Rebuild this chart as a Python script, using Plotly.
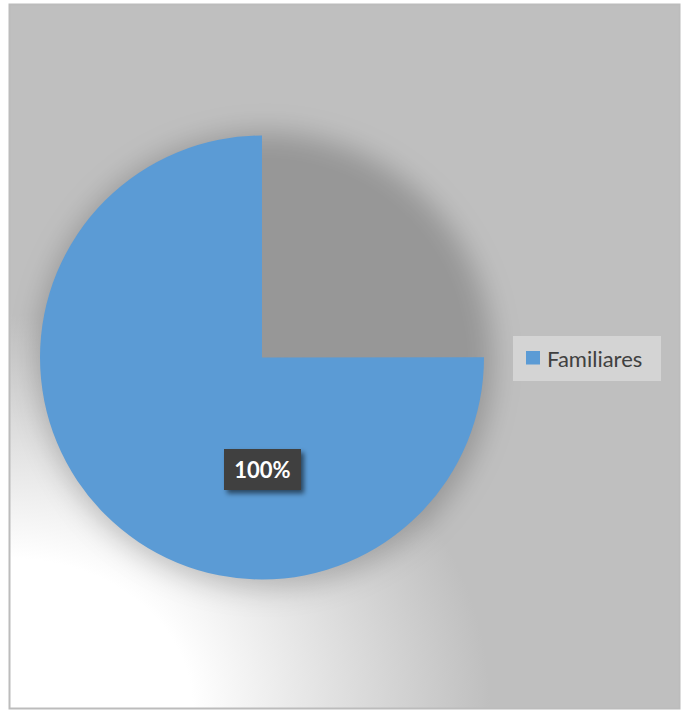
import base64
import plotly.graph_objects as go

# ---- data -------------------------------------------------------------
categories = ["", "Familiares"]
shares = [33.3, 100]          # first slice is left unfilled
slice_colors = ["rgba(0,0,0,0)", "#5B9BD5"]

# ---- layout constants (pixels) -----------------------------------------
W, H = 683, 711
FRAME = (10, 5, 679, 708)     # left, top, right, bottom of the chart frame
CX, CY, R = 262, 357.5, 222   # pie centre and radius

def px(x):
    return x / W

def py(y):
    return 1 - y / H

# background: grey fill with a white wash in the lower-left corner and the pie's drop shadow
fx0, fy0, fx1, fy1 = FRAME
bg_svg = f"""<svg xmlns="http://www.w3.org/2000/svg" width="{W}" height="{H}" viewBox="0 0 {W} {H}">
<defs>
  <clipPath id="c"><rect x="{fx0}" y="{fy0}" width="{fx1-fx0}" height="{fy1-fy0}"/></clipPath>
  <radialGradient id="wash" gradientUnits="userSpaceOnUse" cx="{fx0}" cy="{fy1}" r="480"
      gradientTransform="translate({fx0} {fy1}) scale(1 0.82) translate({-fx0} {-fy1})">
    <stop offset="0" stop-color="#ffffff"/>
    <stop offset="0.38" stop-color="#ffffff"/>
    <stop offset="0.7" stop-color="#dedede"/>
    <stop offset="1" stop-color="#bfbfbf"/>
  </radialGradient>
  <filter id="near" x="-50%" y="-50%" width="200%" height="200%"><feGaussianBlur stdDeviation="14"/></filter>
</defs>
<rect x="0" y="0" width="{W}" height="{H}" fill="#ffffff"/>
<g clip-path="url(#c)">
  <rect x="{fx0}" y="{fy0}" width="{fx1-fx0}" height="{fy1-fy0}" fill="url(#wash)"/>
  <circle cx="{CX+3}" cy="{CY+3}" r="{R+6}" fill="#000000" fill-opacity="0.21" filter="url(#near)"/>
</g>
<rect x="{fx0-0.5}" y="{fy0-0.5}" width="{fx1-fx0+1}" height="{fy1-fy0+1}" fill="none" stroke="#bcbcbc" stroke-width="2"/>
</svg>"""

# data label box shadow
LBL_W, LBL_H = 77, 41
LX, LY = CX + 0.5, CY + R / 2 + 0.5
top_svg = f"""<svg xmlns="http://www.w3.org/2000/svg" width="{W}" height="{H}" viewBox="0 0 {W} {H}">
<defs><filter id="s" x="-50%" y="-50%" width="200%" height="200%"><feGaussianBlur stdDeviation="2.5"/></filter></defs>
<rect x="{LX-LBL_W/2+3}" y="{LY-LBL_H/2+4}" width="{LBL_W}" height="{LBL_H}" fill="#000000" fill-opacity="0.55" filter="url(#s)"/>
</svg>"""

def svg_uri(s):
    return "data:image/svg+xml;base64," + base64.b64encode(s.encode()).decode()

fig = go.Figure()
fig.add_trace(go.Pie(
    labels=categories,
    values=shares,
    marker=dict(colors=slice_colors, line=dict(width=0)),
    sort=False,
    direction="clockwise",
    rotation=0,
    textinfo="none",
    hoverinfo="skip",
    showlegend=False,
    domain=dict(x=[px(CX - R), px(CX + R)], y=[py(CY + R), py(CY - R)]),
))

fig.add_layout_image(dict(source=svg_uri(bg_svg), xref="paper", yref="paper",
                          x=0, y=1, sizex=1, sizey=1, sizing="stretch",
                          xanchor="left", yanchor="top", layer="below"))
fig.add_layout_image(dict(source=svg_uri(top_svg), xref="paper", yref="paper",
                          x=0, y=1, sizex=1, sizey=1, sizing="stretch",
                          xanchor="left", yanchor="top", layer="above"))

# data label
fig.add_annotation(
    x=px(LX), y=py(LY), xref="paper", yref="paper",
    text=f"<b>{shares[1]:.0f}%</b>", showarrow=False,
    font=dict(family="Lato, 'Open Sans', sans-serif", size=22, color="#ffffff"),
    bgcolor="#404040", width=LBL_W, height=LBL_H, borderpad=0, borderwidth=0,
    xanchor="center", yanchor="middle",
)

# legend box
LG = (513, 336, 661, 381)
fig.add_shape(type="rect", xref="paper", yref="paper",
              x0=px(LG[0]), x1=px(LG[2]), y0=py(LG[3]), y1=py(LG[1]),
              fillcolor="#d4d4d4", line=dict(width=0), layer="above")
fig.add_shape(type="rect", xref="paper", yref="paper",
              x0=px(526), x1=px(540), y0=py(364.5), y1=py(351),
              fillcolor=slice_colors[1], line=dict(width=0), layer="above")
fig.add_annotation(
    x=px(545), y=py(358), xref="paper", yref="paper",
    text=categories[1], showarrow=False,
    font=dict(family="Lato, 'Open Sans', sans-serif", size=22, color="#404040"),
    xanchor="left", yanchor="middle",
)

fig.update_layout(
    width=W, height=H,
    margin=dict(l=0, r=0, t=0, b=0),
    paper_bgcolor="#ffffff",
    plot_bgcolor="rgba(0,0,0,0)",
)

fig.write_html("out.html")
